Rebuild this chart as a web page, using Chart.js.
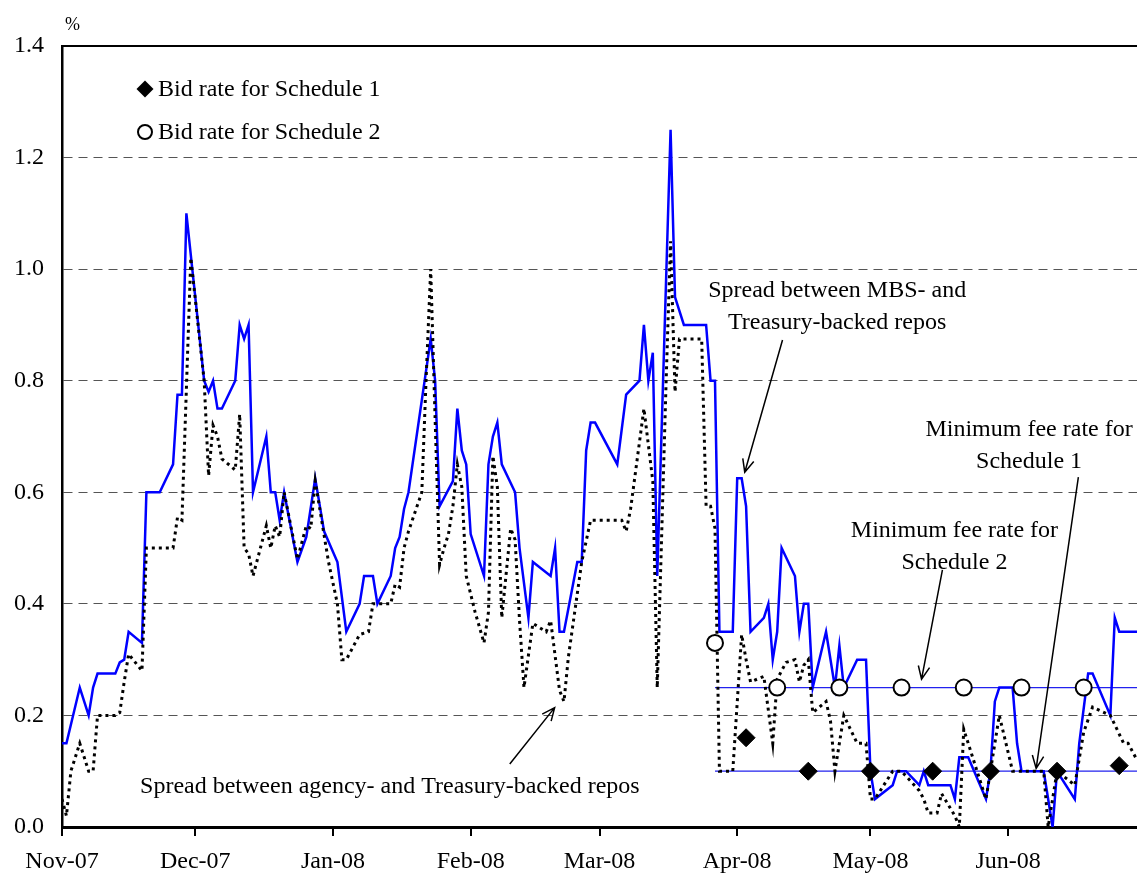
<!DOCTYPE html>
<html>
<head>
<meta charset="utf-8">
<script src="https://cdn.jsdelivr.net/npm/chart.js@4.4.1/dist/chart.umd.min.js"></script>
<style>
  body { margin: 0; background: #fff; }
  canvas { display: block; }
</style>
</head>
<body>
<canvas id="repoChart" width="1137" height="875"></canvas>
<script>
// x values are days counted from 1 Nov 2007
const monthDays = [0, 30, 61, 92, 121, 152, 182, 213];
const monthLabels = ['Nov-07', 'Dec-07', 'Jan-08', 'Feb-08', 'Mar-08', 'Apr-08', 'May-08', 'Jun-08'];
const xMax = 242;

// spread between MBS- and Treasury-backed repos (%)
const mbsDays = [0, 1, 4, 6, 7, 8, 12, 13, 14, 15, 18, 19, 22, 25, 26, 27, 28, 32, 33, 34, 35, 36, 39, 40, 41, 42,
  43, 46, 47, 48, 49, 50, 53, 55, 57, 59, 62, 64, 67, 68, 70, 71, 74, 75, 76, 77, 78, 83, 84, 85, 88, 89, 90, 91,
  92, 95, 96, 97, 98, 99, 102, 103, 105, 106, 110, 111, 112, 113, 116, 117, 118, 119, 120, 125, 127, 130, 131,
  132, 133, 134, 137, 138, 140, 145, 146, 147, 148, 151, 152, 153, 154, 155, 158, 159, 160, 161, 162, 165, 166,
  167, 168, 169, 172, 174, 175, 176, 179, 181, 182, 183, 187, 188, 190, 193, 194, 195, 197, 200, 201, 202, 204,
  208, 209, 210, 211, 214, 215, 216, 221, 223, 224, 228, 229, 231, 232, 236, 237, 238, 242];
const mbsSpread = [0.15, 0.15, 0.25, 0.20, 0.25, 0.275, 0.275, 0.295, 0.30, 0.35, 0.33, 0.60, 0.60, 0.65, 0.775,
  0.775, 1.10, 0.80, 0.78, 0.80, 0.75, 0.75, 0.80, 0.90, 0.875, 0.90,
  0.60, 0.70, 0.60, 0.60, 0.55, 0.60, 0.475, 0.52, 0.625, 0.53, 0.475, 0.35, 0.40, 0.45, 0.45, 0.40, 0.45, 0.50,
  0.52, 0.57, 0.60, 0.875, 0.80, 0.575, 0.62, 0.75, 0.675, 0.65,
  0.525, 0.45, 0.65, 0.70, 0.725, 0.65, 0.60, 0.50, 0.375, 0.475, 0.45, 0.50, 0.35, 0.35, 0.475, 0.475, 0.675,
  0.725, 0.725, 0.65, 0.775, 0.80, 0.90,
  0.80, 0.85, 0.45, 1.25, 0.95, 0.90, 0.90, 0.80, 0.80, 0.35, 0.35, 0.625, 0.625, 0.575, 0.35, 0.375, 0.40, 0.30,
  0.35, 0.50, 0.45, 0.35,
  0.40, 0.40, 0.25, 0.35, 0.25, 0.325, 0.25, 0.30, 0.30, 0.10, 0.05, 0.075, 0.10, 0.10, 0.075, 0.10, 0.075, 0.075,
  0.075, 0.05, 0.125, 0.125,
  0.05, 0.10, 0.225, 0.25, 0.25, 0.15, 0.10, 0.10, 0.0, 0.10, 0.05, 0.15, 0.275, 0.275, 0.20, 0.375, 0.35, 0.35];

// spread between agency- and Treasury-backed repos (%)
const agencyDays = [0, 1, 2, 4, 6, 7, 8, 12, 13, 14, 15, 17, 18, 19, 25, 26, 27, 29, 32, 33, 34, 35, 36, 39, 40,
  41, 42, 43, 46, 47, 48, 49, 50, 53, 55, 56, 57, 60, 62, 63, 64, 67, 69, 70, 74, 75, 76, 77, 78, 81, 82, 83, 84,
  85, 86, 87, 88, 89, 90, 91, 93, 95, 96, 97, 98, 99, 100, 101, 102, 103, 104, 106, 109, 110, 112, 113, 114, 117,
  119, 121, 126, 127, 128, 131, 133, 134, 136, 137, 138, 139, 144, 145, 146, 147, 148, 151, 153, 154, 155, 158,
  160, 161, 163, 165, 166, 167, 168, 169, 172, 173, 174, 176, 179, 181, 182, 183, 187, 189, 193, 194, 195, 197,
  198, 201, 202, 203, 205, 206, 208, 209, 211, 214, 221, 222, 223, 224, 228, 230, 232, 236, 239, 240, 242];
const agencySpread = [0.05, 0.02, 0.10, 0.15, 0.10, 0.10, 0.20, 0.20, 0.205, 0.26, 0.31, 0.29, 0.28, 0.50, 0.50,
  0.555, 0.55, 1.02, 0.80, 0.63, 0.72, 0.70, 0.66, 0.64, 0.74,
  0.50, 0.49, 0.45, 0.54, 0.50, 0.54, 0.52, 0.60, 0.48, 0.54, 0.535, 0.62, 0.475, 0.40, 0.30, 0.30, 0.345, 0.35,
  0.40, 0.40, 0.435, 0.43, 0.50, 0.53, 0.60, 0.81, 1.00, 0.73,
  0.47, 0.50, 0.525, 0.575, 0.65, 0.61, 0.45, 0.385, 0.33, 0.385, 0.665, 0.61, 0.375, 0.455, 0.535, 0.515, 0.37,
  0.25, 0.365, 0.35, 0.37, 0.245, 0.225, 0.305, 0.475,
  0.55, 0.55, 0.55, 0.53, 0.57, 0.75, 0.62, 0.25, 0.80, 1.05, 0.78, 0.875, 0.875, 0.575, 0.575, 0.535, 0.10, 0.10,
  0.345, 0.30, 0.26, 0.27,
  0.15, 0.265, 0.295, 0.30, 0.26, 0.29, 0.30, 0.205, 0.225, 0.19, 0.10, 0.20, 0.15, 0.15, 0.05, 0.05, 0.10, 0.10,
  0.065, 0.05, 0.025, 0.025,
  0.06, 0.02, 0.0, 0.175, 0.125, 0.10, 0.05, 0.10, 0.20, 0.10, 0.10, 0.0, 0.05, 0.10, 0.075, 0.17, 0.215, 0.20,
  0.15, 0.15, 0.12];

// auction bid rates and minimum fee rates
const sched1Days = [154, 168, 182, 196, 209, 224, 238];
const sched1Bids = [0.16, 0.10, 0.10, 0.10, 0.10, 0.10, 0.11];
const sched2Days = [147, 161, 175, 189, 203, 216, 230];
const sched2Bids = [0.33, 0.25, 0.25, 0.25, 0.25, 0.25, 0.25];
const feeDays = [147, 242];
const minFee1 = [0.10, 0.10];
const minFee2 = [0.25, 0.25];

const toPoints = (xs, ys) => xs.map((x, i) => ({ x: x, y: ys[i] }));

const SERIF = '"Liberation Serif", "Times New Roman", serif';
Chart.defaults.font.family = SERIF;
Chart.defaults.color = '#000';

// text labels with arrows, placed in data units
const notes = [
  { lines: ['Spread between MBS- and', 'Treasury-backed repos'], at: [174.5, 0.962], from: [162.2, 0.873], to: [153.7, 0.636] },
  { lines: ['Spread between agency- and Treasury-backed repos'], at: [73.8, 0.072], from: [100.8, 0.113], to: [110.9, 0.214] },
  { lines: ['Minimum fee rate for', 'Schedule 2'], at: [200.9, 0.532], from: [198.2, 0.461], to: [193.5, 0.265] },
  { lines: ['Minimum fee rate for', 'Schedule 1'], at: [217.7, 0.713], from: [228.8, 0.627], to: [219.3, 0.105] }
];

function drawArrow(ctx, x1, y1, x2, y2) {
    const ang = Math.atan2(y2 - y1, x2 - x1);
    const len = 14, spread = 0.42;
    ctx.beginPath();
    ctx.moveTo(x1, y1);
    ctx.lineTo(x2, y2);
    ctx.moveTo(x2 - len * Math.cos(ang - spread), y2 - len * Math.sin(ang - spread));
    ctx.lineTo(x2, y2);
    ctx.lineTo(x2 - len * Math.cos(ang + spread), y2 - len * Math.sin(ang + spread));
    ctx.stroke();
}

const decorations = {
    id: 'decorations',
    afterDatasetsDraw(chart) {
        const { ctx, chartArea, scales: { x, y } } = chart;
        ctx.save();

        // top frame
        ctx.strokeStyle = '#000';
        ctx.lineWidth = 2;
        ctx.beginPath();
        ctx.moveTo(chartArea.left, chartArea.top);
        ctx.lineTo(chartArea.right, chartArea.top);
        ctx.stroke();

        // unit label
        ctx.fillStyle = '#000';
        ctx.font = '18px ' + SERIF;
        ctx.textAlign = 'left';
        ctx.textBaseline = 'middle';
        ctx.fillText('%', 65, 25);

        // notes and arrows
        ctx.font = '24px ' + SERIF;
        ctx.textAlign = 'center';
        notes.forEach(n => {
            const cx = x.getPixelForValue(n.at[0]);
            const cy = y.getPixelForValue(n.at[1]);
            n.lines.forEach((t, i) => ctx.fillText(t, cx, cy + i * 32));
            ctx.lineWidth = 1.5;
            drawArrow(ctx, x.getPixelForValue(n.from[0]), y.getPixelForValue(n.from[1]),
                x.getPixelForValue(n.to[0]), y.getPixelForValue(n.to[1]));
        });

        // legend
        const lx = chartArea.left + 83, ly1 = chartArea.top + 43, ly2 = chartArea.top + 86;
        ctx.beginPath();
        ctx.moveTo(lx - 8.5, ly1);
        ctx.lineTo(lx, ly1 - 8.5);
        ctx.lineTo(lx + 8.5, ly1);
        ctx.lineTo(lx, ly1 + 8.5);
        ctx.closePath();
        ctx.fill();
        ctx.beginPath();
        ctx.arc(lx, ly2, 7, 0, Math.PI * 2);
        ctx.fillStyle = '#fff';
        ctx.fill();
        ctx.lineWidth = 2;
        ctx.stroke();
        ctx.fillStyle = '#000';
        ctx.textAlign = 'left';
        ctx.fillText('Bid rate for Schedule 1', lx + 13, ly1 + 1);
        ctx.fillText('Bid rate for Schedule 2', lx + 13, ly2 + 1);

        ctx.restore();
    }
};

new Chart(document.getElementById('repoChart'), {
    type: 'line',
    data: {
        datasets: [
            {
                label: 'Bid rate for Schedule 1',
                data: toPoints(sched1Days, sched1Bids),
                showLine: false,
                pointStyle: 'rectRot',
                pointRadius: 9,
                pointBackgroundColor: '#000',
                pointBorderColor: '#000',
                pointBorderWidth: 1
            },
            {
                label: 'Bid rate for Schedule 2',
                data: toPoints(sched2Days, sched2Bids),
                showLine: false,
                pointStyle: 'circle',
                pointRadius: 8,
                pointBackgroundColor: '#fff',
                pointBorderColor: '#000',
                pointBorderWidth: 2
            },
            {
                label: 'Spread between agency- and Treasury-backed repos',
                data: toPoints(agencyDays, agencySpread),
                borderColor: '#000',
                borderWidth: 3,
                borderDash: [3, 4],
                pointRadius: 0
            },
            {
                label: 'Spread between MBS- and Treasury-backed repos',
                data: toPoints(mbsDays, mbsSpread),
                borderColor: '#0000ff',
                borderWidth: 2.5,
                pointRadius: 0
            },
            {
                label: 'Minimum fee rate for Schedule 1',
                data: toPoints(feeDays, minFee1),
                borderColor: '#2222ee',
                borderWidth: 1.2,
                pointRadius: 0
            },
            {
                label: 'Minimum fee rate for Schedule 2',
                data: toPoints(feeDays, minFee2),
                borderColor: '#2222ee',
                borderWidth: 1.2,
                pointRadius: 0
            }
        ]
    },
    options: {
        responsive: false,
        animation: false,
        devicePixelRatio: 1,
        layout: { autoPadding: false, padding: { top: 46, left: 0, right: 0, bottom: 0 } },
        plugins: {
            legend: { display: false },
            tooltip: { enabled: false }
        },
        elements: { line: { tension: 0 } },
        scales: {
            x: {
                type: 'linear',
                min: 0,
                max: xMax,
                afterBuildTicks: axis => { axis.ticks = monthDays.map(v => ({ value: v })); },
                afterFit: axis => { axis.height = 48; },
                ticks: {
                    autoSkip: false,
                    maxRotation: 0,
                    padding: 11,
                    font: { size: 24 },
                    callback: v => monthLabels[monthDays.indexOf(v)]
                },
                grid: { drawOnChartArea: false, tickLength: 9, color: '#000', lineWidth: 2 },
                border: { display: true, color: '#000', width: 3 }
            },
            y: {
                min: 0,
                max: 1.4,
                afterFit: axis => { axis.width = 62; },
                ticks: {
                    stepSize: 0.2,
                    padding: 18,
                    font: { size: 24 },
                    callback: v => v.toFixed(1)
                },
                grid: {
                    drawTicks: false,
                    lineWidth: 1,
                    color: c => (c.tick && c.tick.value > 0.01 && c.tick.value < 1.39) ? '#555' : 'rgba(0,0,0,0)'
                },
                border: { display: true, color: '#000', width: 2.5, dash: [9, 6] }
            }
        }
    },
    plugins: [decorations]
});
</script>
</body>
</html>
